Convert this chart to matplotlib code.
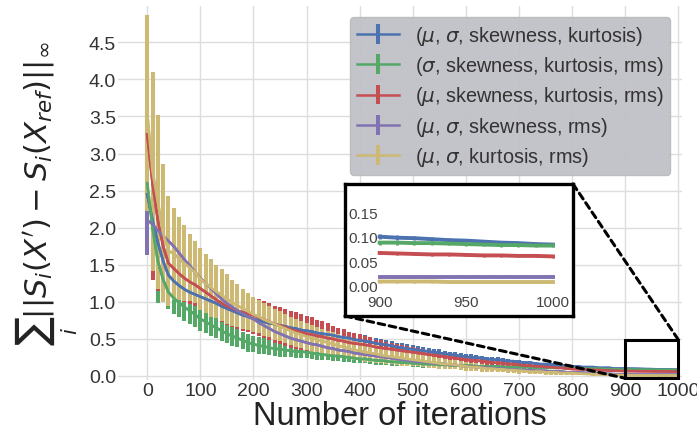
import matplotlib
matplotlib.use("Agg")
import matplotlib.pyplot as plt
from matplotlib.patches import Rectangle, ConnectionPatch

plt.rcParams.update({'font.family': ['Liberation Sans', 'DejaVu Sans'],
                     'mathtext.fontset': 'dejavusans'})

iters = list(range(0, 1001, 10))

labels = [r'($\mu$, $\sigma$, skewness, kurtosis)',
          r'($\sigma$, skewness, kurtosis, rms)',
          r'($\mu$, skewness, kurtosis, rms)',
          r'($\mu$, $\sigma$, skewness, rms)',
          r'($\mu$, $\sigma$, kurtosis, rms)']

blue_mean = [2.45, 2.10, 1.80, 1.55, 1.36, 1.28, 1.22, 1.17, 1.13, 1.10,
             1.07, 1.04, 1.01, 0.98, 0.94, 0.91, 0.88, 0.85, 0.82, 0.80,
             0.77, 0.75, 0.73, 0.71, 0.70, 0.68, 0.67, 0.65, 0.64, 0.62,
             0.61, 0.60, 0.58, 0.57, 0.56, 0.55, 0.53, 0.52, 0.51, 0.49,
             0.48, 0.47, 0.46, 0.44, 0.43, 0.42, 0.41, 0.39, 0.38, 0.37,
             0.36, 0.35, 0.34, 0.33, 0.32, 0.31, 0.30, 0.29, 0.28, 0.27,
             0.26, 0.25, 0.25, 0.24, 0.23, 0.22, 0.22, 0.21, 0.20, 0.20,
             0.19, 0.18, 0.18, 0.17, 0.16, 0.16, 0.15, 0.15, 0.14, 0.14,
             0.13, 0.13, 0.12, 0.12, 0.12, 0.11, 0.11, 0.11, 0.10, 0.10,
             0.100, 0.098, 0.097, 0.095, 0.093, 0.092, 0.090, 0.088, 0.087, 0.085, 0.084]
blue_err = [0.10, 0.25, 0.20, 0.17, 0.14, 0.12, 0.11, 0.11, 0.10, 0.10,
            0.10, 0.10, 0.10, 0.10, 0.10, 0.10, 0.10, 0.10, 0.10, 0.10,
            0.10, 0.10, 0.10, 0.10, 0.10, 0.10, 0.10, 0.10, 0.10, 0.10,
            0.10, 0.10, 0.09, 0.09, 0.09, 0.09, 0.09, 0.08, 0.08, 0.08,
            0.08, 0.08, 0.07, 0.07, 0.07, 0.07, 0.06, 0.06, 0.06, 0.06,
            0.06, 0.05, 0.05, 0.05, 0.05, 0.05, 0.04, 0.04, 0.04, 0.04,
            0.04, 0.04, 0.03, 0.03, 0.03, 0.03, 0.03, 0.03, 0.03, 0.02,
            0.02, 0.02, 0.02, 0.02, 0.02, 0.02, 0.02, 0.02, 0.02, 0.02,
            0.01, 0.01, 0.01, 0.01, 0.01, 0.01, 0.01, 0.01, 0.01, 0.01,
            0.005, 0.005, 0.004, 0.004, 0.004, 0.003, 0.003, 0.003, 0.003, 0.003, 0.003]

green_mean = [2.60, 2.00, 1.55, 1.30, 1.13, 1.05, 0.99, 0.93, 0.88, 0.83,
              0.77, 0.73, 0.69, 0.65, 0.61, 0.57, 0.54, 0.51, 0.48, 0.45,
              0.43, 0.41, 0.40, 0.38, 0.37, 0.36, 0.35, 0.34, 0.33, 0.33,
              0.32, 0.31, 0.30, 0.29, 0.28, 0.27, 0.27, 0.26, 0.25, 0.24,
              0.23, 0.23, 0.22, 0.21, 0.21, 0.20, 0.19, 0.19, 0.18, 0.18,
              0.17, 0.17, 0.16, 0.16, 0.16, 0.15, 0.15, 0.15, 0.14, 0.14,
              0.14, 0.14, 0.13, 0.13, 0.13, 0.13, 0.13, 0.12, 0.12, 0.12,
              0.12, 0.12, 0.12, 0.11, 0.11, 0.11, 0.11, 0.11, 0.11, 0.11,
              0.11, 0.10, 0.10, 0.10, 0.10, 0.10, 0.095, 0.093, 0.091, 0.089,
              0.088, 0.088, 0.087, 0.087, 0.086, 0.085, 0.084, 0.083, 0.083, 0.082, 0.082]
green_err = [0.60, 0.70, 0.57, 0.30, 0.22, 0.21, 0.20, 0.19, 0.18, 0.17,
             0.16, 0.15, 0.15, 0.14, 0.14, 0.13, 0.13, 0.12, 0.12, 0.12,
             0.11, 0.11, 0.11, 0.10, 0.10, 0.10, 0.09, 0.09, 0.09, 0.09,
             0.08, 0.08, 0.08, 0.08, 0.07, 0.07, 0.07, 0.07, 0.06, 0.06,
             0.06, 0.06, 0.06, 0.06, 0.06, 0.05, 0.05, 0.05, 0.05, 0.05,
             0.05, 0.05, 0.05, 0.04, 0.04, 0.04, 0.04, 0.04, 0.04, 0.04,
             0.03, 0.03, 0.03, 0.03, 0.03, 0.03, 0.03, 0.03, 0.03, 0.03,
             0.02, 0.02, 0.02, 0.02, 0.02, 0.02, 0.02, 0.02, 0.02, 0.02,
             0.01, 0.01, 0.01, 0.01, 0.01, 0.01, 0.01, 0.01, 0.01, 0.01,
             0.004, 0.004, 0.004, 0.004, 0.003, 0.003, 0.003, 0.003, 0.003, 0.003, 0.003]

red_mean = [3.26, 2.60, 2.10, 1.75, 1.52, 1.45, 1.38, 1.32, 1.27, 1.23,
            1.18, 1.13, 1.08, 1.03, 0.98, 0.94, 0.91, 0.88, 0.86, 0.84,
            0.82, 0.79, 0.76, 0.73, 0.70, 0.68, 0.66, 0.63, 0.61, 0.59,
            0.57, 0.56, 0.54, 0.53, 0.51, 0.50, 0.48, 0.47, 0.45, 0.44,
            0.43, 0.42, 0.41, 0.39, 0.38, 0.37, 0.36, 0.35, 0.34, 0.33,
            0.32, 0.31, 0.30, 0.29, 0.28, 0.27, 0.26, 0.25, 0.24, 0.23,
            0.22, 0.21, 0.21, 0.20, 0.19, 0.18, 0.18, 0.17, 0.16, 0.16,
            0.15, 0.14, 0.14, 0.13, 0.13, 0.12, 0.12, 0.11, 0.11, 0.10,
            0.095, 0.092, 0.089, 0.086, 0.083, 0.080, 0.077, 0.074, 0.071, 0.069,
            0.067, 0.066, 0.065, 0.064, 0.064, 0.063, 0.062, 0.062, 0.061, 0.061, 0.060]
red_err = [0.40, 1.30, 0.95, 0.70, 0.50, 0.40, 0.35, 0.32, 0.30, 0.28,
           0.27, 0.26, 0.26, 0.25, 0.25, 0.25, 0.25, 0.25, 0.25, 0.25,
           0.25, 0.25, 0.25, 0.25, 0.25, 0.25, 0.25, 0.25, 0.25, 0.25,
           0.24, 0.23, 0.22, 0.21, 0.20, 0.18, 0.17, 0.16, 0.15, 0.14,
           0.13, 0.12, 0.11, 0.10, 0.10, 0.09, 0.09, 0.08, 0.08, 0.07,
           0.07, 0.07, 0.06, 0.06, 0.06, 0.05, 0.05, 0.05, 0.05, 0.04,
           0.04, 0.04, 0.04, 0.04, 0.04, 0.03, 0.03, 0.03, 0.03, 0.03,
           0.03, 0.03, 0.02, 0.02, 0.02, 0.02, 0.02, 0.02, 0.02, 0.02,
           0.01, 0.01, 0.01, 0.01, 0.01, 0.01, 0.01, 0.01, 0.01, 0.01,
           0.003, 0.003, 0.003, 0.003, 0.003, 0.003, 0.003, 0.003, 0.003, 0.003, 0.003]

purple_mean = [2.10, 2.05, 1.96, 1.89, 1.82, 1.75, 1.66, 1.57, 1.49, 1.40,
               1.32, 1.25, 1.18, 1.11, 1.04, 0.98, 0.93, 0.88, 0.84, 0.80,
               0.77, 0.72, 0.68, 0.64, 0.60, 0.57, 0.54, 0.51, 0.49, 0.47,
               0.45, 0.43, 0.42, 0.40, 0.38, 0.37, 0.35, 0.34, 0.33, 0.31,
               0.30, 0.29, 0.28, 0.27, 0.26, 0.25, 0.24, 0.23, 0.22, 0.21,
               0.20, 0.19, 0.19, 0.18, 0.17, 0.17, 0.16, 0.15, 0.15, 0.14,
               0.13, 0.13, 0.12, 0.12, 0.11, 0.11, 0.10, 0.10, 0.09, 0.09,
               0.08, 0.08, 0.08, 0.07, 0.07, 0.07, 0.06, 0.06, 0.06, 0.05,
               0.05, 0.05, 0.045, 0.04, 0.04, 0.035, 0.03, 0.03, 0.025, 0.022,
               0.019, 0.019, 0.019, 0.019, 0.019, 0.019, 0.019, 0.019, 0.019, 0.019, 0.019]
purple_err = [0.47, 0.10, 0.06, 0.05, 0.05, 0.05, 0.05, 0.05, 0.05, 0.05,
              0.04, 0.04, 0.04, 0.04, 0.04, 0.04, 0.04, 0.04, 0.04, 0.04,
              0.04, 0.04, 0.04, 0.04, 0.04, 0.04, 0.04, 0.04, 0.04, 0.04,
              0.03, 0.03, 0.03, 0.03, 0.03, 0.03, 0.03, 0.03, 0.03, 0.03,
              0.03, 0.03, 0.03, 0.03, 0.03, 0.03, 0.03, 0.03, 0.03, 0.03,
              0.02, 0.02, 0.02, 0.02, 0.02, 0.02, 0.02, 0.02, 0.02, 0.02,
              0.02, 0.02, 0.02, 0.02, 0.02, 0.02, 0.02, 0.02, 0.02, 0.02,
              0.01, 0.01, 0.01, 0.01, 0.01, 0.01, 0.01, 0.01, 0.01, 0.01,
              0.01, 0.01, 0.01, 0.01, 0.01, 0.01, 0.01, 0.01, 0.01, 0.01,
              0.002, 0.002, 0.002, 0.002, 0.002, 0.002, 0.002, 0.002, 0.002, 0.002, 0.002]

yellow_mean = [3.55, 2.76, 2.35, 1.93, 1.69, 1.65, 1.58, 1.52, 1.46, 1.40,
               1.31, 1.25, 1.19, 1.14, 1.09, 1.04, 0.99, 0.95, 0.91, 0.87,
               0.83, 0.80, 0.76, 0.73, 0.70, 0.67, 0.64, 0.61, 0.58, 0.56,
               0.53, 0.51, 0.49, 0.47, 0.45, 0.43, 0.41, 0.39, 0.37, 0.35,
               0.34, 0.32, 0.31, 0.30, 0.28, 0.27, 0.26, 0.25, 0.24, 0.23,
               0.22, 0.21, 0.20, 0.19, 0.18, 0.17, 0.16, 0.16, 0.15, 0.14,
               0.13, 0.12, 0.12, 0.11, 0.10, 0.10, 0.09, 0.09, 0.08, 0.08,
               0.07, 0.07, 0.06, 0.06, 0.06, 0.05, 0.05, 0.05, 0.04, 0.04,
               0.04, 0.035, 0.03, 0.028, 0.025, 0.022, 0.02, 0.017, 0.015, 0.013,
               0.009, 0.009, 0.009, 0.009, 0.008, 0.008, 0.008, 0.008, 0.008, 0.008, 0.008]
yellow_err = [1.32, 1.34, 1.17, 0.93, 0.74, 0.62, 0.56, 0.51, 0.45, 0.42,
              0.42, 0.40, 0.39, 0.36, 0.35, 0.34, 0.31, 0.29, 0.27, 0.25,
              0.23, 0.22, 0.22, 0.21, 0.21, 0.20, 0.20, 0.19, 0.19, 0.18,
              0.18, 0.18, 0.17, 0.17, 0.16, 0.16, 0.15, 0.15, 0.14, 0.14,
              0.13, 0.13, 0.12, 0.12, 0.11, 0.11, 0.10, 0.10, 0.10, 0.09,
              0.09, 0.08, 0.08, 0.08, 0.07, 0.07, 0.07, 0.06, 0.06, 0.06,
              0.06, 0.05, 0.05, 0.05, 0.05, 0.04, 0.04, 0.04, 0.04, 0.04,
              0.04, 0.03, 0.03, 0.03, 0.03, 0.03, 0.03, 0.03, 0.03, 0.03,
              0.02, 0.02, 0.02, 0.02, 0.02, 0.01, 0.01, 0.01, 0.01, 0.01,
              0.002, 0.002, 0.002, 0.002, 0.002, 0.002, 0.002, 0.002, 0.002, 0.002, 0.002]

means = [blue_mean, green_mean, red_mean, purple_mean, yellow_mean]
errs = [blue_err, green_err, red_err, purple_err, yellow_err]
colors = ['#4C72B0', '#55A868', '#C44E52', '#8172B2', '#CCB974']

fig = plt.figure(figsize=(6.97, 4.31), dpi=100)
ax = fig.add_axes([118/697, 1 - 381/431, 564/697, 374/431])

for m, e, c, lab in zip(means, errs, colors, labels):
    ax.errorbar(iters, m, yerr=e, color=c, lw=1.8, elinewidth=2.9, label=lab, zorder=2)
for m, c in zip(means, colors):
    ax.plot(iters, m, color=c, lw=1.9, zorder=3)

ax.set_xlim(-55, 1007)
ax.set_ylim(-0.054, 4.99)
ax.set_xticks(range(0, 1001, 100))
ax.set_yticks([0, 0.5, 1, 1.5, 2, 2.5, 3, 3.5, 4, 4.5])
ax.grid(color='#dddddd', lw=1)
ax.set_axisbelow(True)
for s in ax.spines.values():
    s.set_visible(False)
ax.tick_params(length=0, pad=1.5, labelsize=14, labelcolor='#333333')
ax.set_xlabel('Number of iterations', fontsize=23.5, color='#222222')
ax.set_ylabel(r"$\sum_i||S_i(X') - S_i(X_{ref})||_\infty$", fontsize=22, color='#222222')
ax.xaxis.set_label_coords(0.5, -0.054)
ax.yaxis.set_label_coords(-0.068, 0.5)

leg = ax.legend(loc='upper right', bbox_to_anchor=(0.979, 0.97), borderaxespad=0,
                fontsize=14.3, facecolor='#c0c0c7', edgecolor='#bbbbbb', framealpha=0.95,
                handlelength=2.1, handletextpad=0.8, borderpad=0.35, labelspacing=0.36)
for t in leg.get_texts():
    t.set_color('#333333')

ax.add_patch(Rectangle((900, -0.03), 100, 0.52, fill=False, ec='black', lw=2.2, zorder=5))

# zoomed inset
ins = fig.add_axes([345/697, 1 - 317/431, 228/697, 132/431])
tail = iters.index(900)
for m, e, c in zip(means, errs, colors):
    ins.errorbar(iters[tail:], m[tail:], yerr=e[tail:], color=c, lw=2.8, elinewidth=2)
ins.set_xlim(880, 1011.6)
ins.set_ylim(-0.061, 0.207)
ins.set_xticks([900, 950, 1000])
ins.set_yticks([0.0, 0.05, 0.10, 0.15])
ins.set_yticklabels(['0.00', '0.05', '0.10', '0.15'])
ins.tick_params(axis='y', length=0, pad=-24, labelsize=11, labelcolor='#444444')
ins.tick_params(axis='x', length=0, pad=-15, labelsize=11, labelcolor='#444444')
for s in ins.spines.values():
    s.set_linewidth(2.4)
    s.set_color('black')

for pa, pb in [((0, 0), (900, -0.03)), ((1, 1), (1000, 0.49))]:
    con = ConnectionPatch(xyA=pa, coordsA=ins.transAxes, xyB=pb, coordsB=ax.transData,
                          ls=(0, (2.2, 1.5)), lw=2.2, color='black', zorder=6)
    fig.add_artist(con)

fig.savefig('out.png', dpi=100)
